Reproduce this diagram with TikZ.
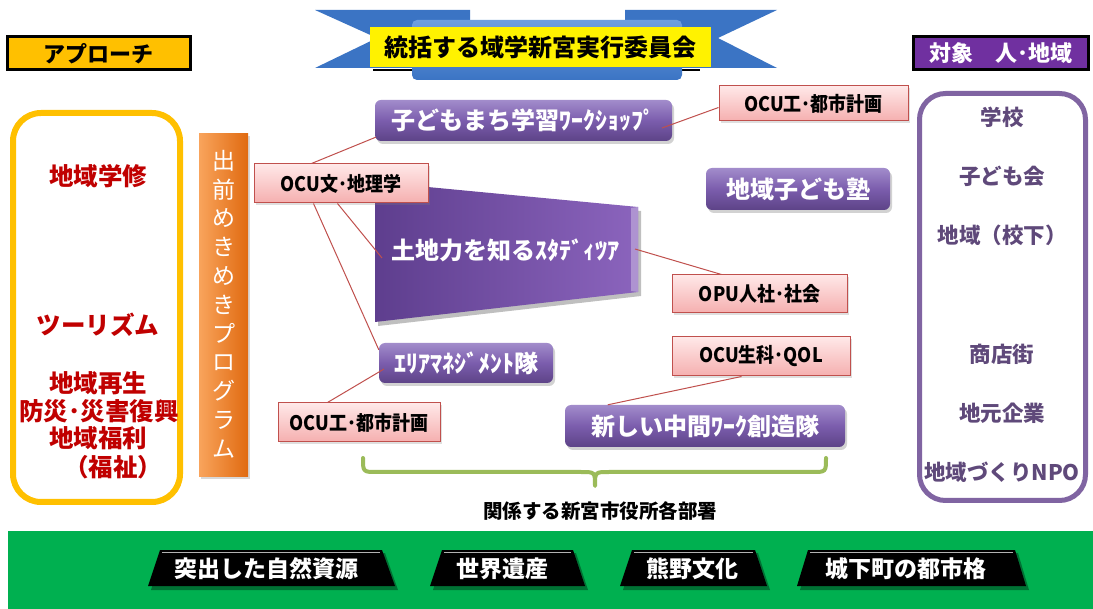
\documentclass[tikz,border=0pt]{standalone}
\usepackage{fontspec}
\setmainfont{Noto Sans CJK JP}
\newfontfamily\narrowjp{Noto Sans CJK JP}[FakeStretch=0.9]
\usetikzlibrary{shadows,calc}
\definecolor{ayellow}{HTML}{FFC000}
\definecolor{hdpurple}{HTML}{7030A0}
\definecolor{darkred}{HTML}{C00000}
\definecolor{pinkborder}{HTML}{C0504D}
\definecolor{pinktop}{HTML}{FFE8E8}
\definecolor{pinkbot}{HTML}{F5AFAF}
\definecolor{purtop}{HTML}{A28CCB}
\definecolor{purmid}{HTML}{7B5DAD}
\definecolor{purbot}{HTML}{5D4387}
\definecolor{tgtpurple}{HTML}{8064A2}
\definecolor{tgttext}{HTML}{5F497A}
\definecolor{bracegreen}{HTML}{9BBB59}
\definecolor{bandgreen}{HTML}{00B050}
\definecolor{ribbon}{HTML}{4A87D6}
\definecolor{ribbondark}{HTML}{3B74C4}
\definecolor{barlight}{HTML}{F9A45C}
\definecolor{bardark}{HTML}{E06A10}
\definecolor{trapleft}{HTML}{5E3E8E}
\definecolor{trapright}{HTML}{8B64BD}
\begin{document}
\begin{tikzpicture}[x=1pt,y=-1pt,
  header/.style={draw=black, line width=3pt, inner sep=0pt, font=\bfseries\fontsize{22}{22}\selectfont},
  pinkbox/.style={draw=pinkborder, line width=1pt, top color=pinktop, bottom color=pinkbot, inner sep=0pt,
    font=\narrowjp\bfseries\fontsize{20}{20}\selectfont,
    drop shadow={opacity=0.25, shadow xshift=2pt, shadow yshift=-2pt}},
  purplebox/.style={rounded corners=6pt, top color=purtop, bottom color=purbot, middle color=purmid,
    inner sep=0pt, text=white, font=\bfseries\fontsize{24}{24}\selectfont,
    drop shadow={opacity=0.35, shadow xshift=2pt, shadow yshift=-3pt}},
  lefttext/.style={text=darkred, font=\bfseries\fontsize{24.5}{24.5}\selectfont, inner sep=0pt},
  righttext/.style={text=tgttext, font=\bfseries\fontsize{21.5}{21.5}\selectfont, inner sep=0pt},
  conn/.style={draw=pinkborder, line width=1pt},
  blacklabel/.style={text=white, font=\bfseries\fontsize{23}{23}\selectfont, inner sep=0pt}
]
\useasboundingbox (0,0) rectangle (1093,609);
\fill[white] (0,0) rectangle (1093,609);

% ---- ribbon with title
\fill[ribbondark] (315,10) -- (470,10) -- (470,68) -- (315,68) -- (377,38) -- cycle;
\fill[ribbondark] (777,10) -- (625,10) -- (625,68) -- (777,68) -- (718,38) -- cycle;
\draw[black, line width=1.5pt] (373,70) -- (700,70);
\shade[top color=ribbon!80!white, bottom color=ribbondark, rounded corners=5pt] (412,20) rectangle (682,80);
\node[fill=yellow, minimum width=341, minimum height=40, inner sep=0pt,
  font=\bfseries\fontsize{24}{24}\selectfont] (title) at (540,47) {統括する域学新宮実行委員会};

% ---- headers
\node[header, fill=ayellow, minimum width=183, minimum height=33] (approach) at (98.5,53.5) {アプローチ};
\node[header, fill=hdpurple, text=white, minimum width=175, minimum height=33] (target) at (1000.5,53.5) {対象　人･地域};

% ---- left approach box
\node[draw=ayellow, line width=6pt, rounded corners=28pt, minimum width=167, minimum height=389, inner sep=0pt] (leftbox) at (96.5,307.5) {};
\node[lefttext] (a1) at (98,176) {地域学修};
\node[lefttext] (a2) at (98,325) {ツーリズム};
\node[lefttext] (a3) at (98,383) {地域再生};
\node[lefttext] (a4) at (99,411) {防災･災害復興};
\node[lefttext] (a5) at (98,438) {地域福利};
\node[lefttext] (a6) at (113,467) {（福祉）};

% ---- orange bar
\node[left color=barlight, right color=bardark, minimum width=49, minimum height=343, inner sep=0pt,
  drop shadow={opacity=0.3, shadow xshift=2pt, shadow yshift=-2pt}] (bar) at (223.5,305.5) {};
\node[text=white, align=center, inner sep=0pt, font=\fontsize{23}{28.8}\selectfont] (bartext) at (224,304)
  {出\\前\\め\\き\\め\\き\\プ\\ロ\\グ\\ラ\\ム};

% ---- right target box
\node[draw=tgtpurple, line width=5pt, rounded corners=26pt, minimum width=166, minimum height=407, inner sep=0pt] (rightbox) at (1002.5,297) {};
\node[righttext] (r1) at (1002,117) {学校};
\node[righttext] (r2) at (1002,176) {子ども会};
\node[righttext] (r3) at (1002,235) {地域（校下）};
\node[righttext] (r4) at (1002,354) {商店街};
\node[righttext] (r5) at (1002,413) {地元企業};
\node[righttext] (r6) at (1002,472) {地域づくりNPO};

% ---- trapezoid
\fill[black, opacity=0.25] (378,186) -- (641,211) -- (641,296) -- (378,326) -- cycle;
\shade[left color=trapleft, right color=trapright] (375,182) -- (638,207) -- (638,292) -- (375,322) -- cycle;
\fill[trapright!70!white] (631,208) -- (638,207) -- (638,292) -- (631,291) -- cycle;
\node[text=white, inner sep=0pt, font=\bfseries\fontsize{24}{24}\selectfont] (study) at (505,250) {土地力を知るｽﾀﾃﾞｨﾂｱ};

% ---- purple boxes
\node[purplebox, minimum width=297, minimum height=41] (kodomo) at (523.5,120.5) {子どもまち学習ﾜｰｸｼｮｯﾌﾟ};
\node[purplebox, minimum width=184, minimum height=42] (juku) at (798,189) {地域子ども塾};
\node[purplebox, minimum width=174, minimum height=40] (area) at (466,363) {ｴﾘｱﾏﾈｼﾞﾒﾝﾄ隊};
\node[purplebox, minimum width=280, minimum height=42] (atarashii) at (705,426) {新しい中間ﾜｰｸ創造隊};

% ---- pink labels
\node[pinkbox, minimum width=189, minimum height=35] (ocu1) at (813.5,103.5) {OCU工･都市計画};
\node[pinkbox, minimum width=174, minimum height=39] (ocubun) at (341,183.5) {OCU文･地理学};
\node[pinkbox, minimum width=175, minimum height=38] (opu) at (759.5,294) {OPU人社･社会};
\node[pinkbox, minimum width=178, minimum height=39] (ocusei) at (761,356.5) {OCU生科･QOL};
\node[pinkbox, minimum width=162, minimum height=39] (ocu2) at (359,422.5) {OCU工･都市計画};

% ---- connectors
\coordinate (kwin) at (662,128);
\coordinate (stL) at (382,258);
\coordinate (stR) at (635,249);
\coordinate (areaIn) at (384,369);
\draw[conn] ($(ocubun.north west)+(58,0)$) -- ($(kodomo.south west)+(1,-4)$);
\draw[conn] ($(ocu1.west)+(0,4)$) -- (kwin);
\draw[conn] ($(ocubun.south west)+(84,0)$) -- (stL);
\draw[conn] ($(ocubun.south west)+(60,0)$) -- ($(area.north west)+(0,7)$);
\draw[conn] (stR) -- ($(opu.north west)+(50,0)$);
\draw[conn] (areaIn) -- ($(ocu2.north west)+(50,0)$);
\draw[conn] ($(ocusei.south west)+(70,0)$) -- ($(atarashii.north west)+(43,0)$);

% ---- brace
\draw[bracegreen, line width=4pt, line cap=round, line join=round]
  (363,458) .. controls (363,472) .. (377,472) -- (581,472)
  .. controls (595,472) .. (595,486) .. controls (595,472) .. (609,472)
  -- (812,472) .. controls (826,472) .. (826,458);
\node[inner sep=0pt, font=\bfseries\fontsize{19.5}{19.5}\selectfont] (city) at (600,511) {関係する新宮市役所各部署};

% ---- bottom band
\fill[bandgreen] (8,531) rectangle (1093,609);
\foreach \tl/\tr/\bl/\br/\cx/\nm/\txt in {
  160/382/148/395/266/b1/突出した自然資源,
  442/573/430/585/502/b2/世界遺産,
  632/755/620/767/692/b3/熊野文化,
  808/1015/797/1026/906/b4/城下町の都市格}{
  \fill[black, opacity=0.35] (\tl+3,553) -- (\tr+3,553) -- (\br+3,590) -- (\bl+3,590) -- cycle;
  \fill[black] (\tl,550) -- (\tr,550) -- (\br,586) -- (\bl,586) -- cycle;
  \draw[gray!60, line width=1.2pt] (\tl+2,552.5) -- (\tr-2,552.5);
  \node[blacklabel] (\nm) at (\cx,569) {\txt};
}
\end{tikzpicture}
\end{document}
